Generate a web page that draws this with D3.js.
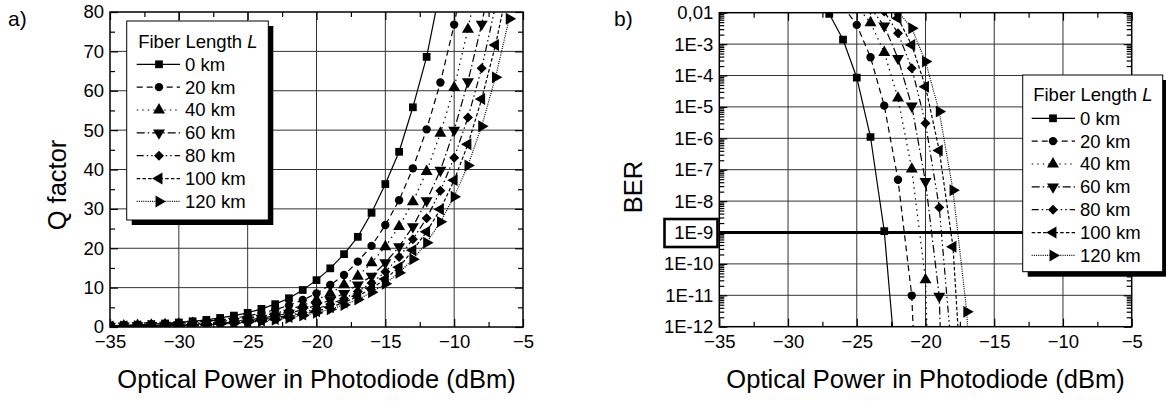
<!DOCTYPE html>
<html>
<head>
<meta charset="utf-8">
<script src="https://cdn.jsdelivr.net/npm/d3@7"></script>
<style>
  body { margin: 0; background: #fff; }
  text { font-family: Arial, "Liberation Sans", sans-serif; fill: #000; }
</style>
</head>
<body>
<svg width="1166" height="401"></svg>
<script>
// ---- data ----
var seriesNames = ["0 km", "20 km", "40 km", "60 km", "80 km", "100 km", "120 km"];

// measured optical power steps (dBm)
var power = [-35, -34, -33, -32, -31, -30, -29, -28, -27, -26, -25, -24, -23, -22, -21, -20,
             -19, -18, -17, -16, -15, -14, -13, -12, -11, -10, -9, -8, -7, -6];

// Q factor, every series starts at -35 dBm
var q0km   = [0.36, 0.45, 0.57, 0.72, 0.9, 1.15, 1.45, 1.8, 2.3, 2.9, 3.6, 4.6, 5.8, 7.3, 9.4, 11.9, 14.9, 18.5, 22.9, 29.0, 36.3, 44.5, 55.8, 68.6, 86];
var q20km  = [0.3, 0.38, 0.47, 0.59, 0.74, 0.92, 1.15, 1.45, 1.8, 2.25, 2.8, 3.5, 4.4, 5.5, 6.85, 8.55, 10.7, 13.2, 16.6, 20.6, 25.9, 32.2, 40.3, 50.2, 62.1, 76.8, 95];
var q40km  = [0.24, 0.3, 0.38, 0.47, 0.59, 0.74, 0.92, 1.15, 1.45, 1.8, 2.25, 2.8, 3.5, 4.4, 5.5, 6.85, 8.55, 10.7, 12.9, 16.3, 20.4, 25.5, 31.8, 39.5, 49.2, 60.8, 75.6, 93];
var q60km  = [0.19, 0.24, 0.3, 0.38, 0.47, 0.59, 0.74, 0.92, 1.15, 1.45, 1.8, 2.25, 2.8, 3.5, 4.4, 5.5, 6.85, 8.55, 10.7, 12.9, 16.3, 20.4, 25.5, 32.1, 39.8, 50.0, 62.3, 76.9, 95];
var q80km  = [0.16, 0.2, 0.25, 0.31, 0.39, 0.49, 0.61, 0.77, 0.96, 1.2, 1.5, 1.9, 2.35, 2.95, 3.7, 4.6, 5.8, 7.2, 9.0, 11.2, 14.0, 17.8, 22.3, 27.6, 34.6, 43.0, 53.2, 65.7, 81.5];
var q100km = [0.14, 0.18, 0.22, 0.27, 0.34, 0.43, 0.54, 0.67, 0.84, 1.05, 1.3, 1.65, 2.05, 2.55, 3.2, 4.0, 5.0, 6.2, 7.8, 9.8, 12.2, 15.2, 19.5, 24.2, 29.9, 37.3, 46.4, 57.9, 71.6, 88];
var q120km = [0.13, 0.16, 0.2, 0.25, 0.31, 0.39, 0.48, 0.6, 0.76, 0.95, 1.18, 1.48, 1.85, 2.3, 2.9, 3.6, 4.5, 5.6, 7.0, 8.8, 11.0, 13.8, 17.2, 21.4, 26.7, 33.1, 41, 51.0, 63.4, 78.3];

// BER, first power of each series (dBm)
var berFirst = [-28, -26, -25, -24, -23, -23, -22];
var ber0km   = [3.2e-2, 9.1e-3, 1.4e-3, 8.5e-5, 1.1e-6, 1.1e-9, 1e-14];
var ber20km  = [1.6e-2, 4.1e-3, 3.8e-4, 1.1e-5, 4.8e-8, 9.8e-12, 1e-21];
var ber40km  = [1.6e-2, 4.8e-3, 5.4e-4, 1.9e-5, 1.05e-7, 3.1e-11, 1e-25];
var ber60km  = [1.4e-2, 3.8e-3, 3.5e-4, 1.07e-5, 4.2e-8, 9.3e-12, 1e-25];
var ber80km  = [1.1e-2, 2.2e-3, 1.7e-4, 3.0e-6, 6.3e-9, 5e-14];
var ber100km = [2.5e-2, 6.6e-3, 9.3e-4, 4.4e-5, 4.1e-7, 3.5e-10, 3e-17];
var ber120km = [1.1e-2, 3.2e-3, 2.8e-4, 7.1e-6, 2.2e-8, 3.0e-12, 1e-20];

var xTicks = [-35, -30, -25, -20, -15, -10, -5];
var qTicks = [0, 10, 20, 30, 40, 50, 60, 70, 80];
var berTicks = [1e-2, 1e-3, 1e-4, 1e-5, 1e-6, 1e-7, 1e-8, 1e-9, 1e-10, 1e-11, 1e-12];
var berLabels = ["0,01", "1E-3", "1E-4", "1E-5", "1E-6", "1E-7", "1E-8", "1E-9", "1E-10", "1E-11", "1E-12"];

var qSeries = [q0km, q20km, q40km, q60km, q80km, q100km, q120km];
var berSeries = [ber0km, ber20km, ber40km, ber60km, ber80km, ber100km, ber120km];

// ---- styles ----
var dashes = [null, "6,4", "1.5,4", "8,3,1.5,3", "7,3,1.5,3,1.5,3", "3.5,2.2", "1,1.2"];
var symbols = [
  { type: d3.symbolSquare, size: 60, rot: 0 },
  { type: d3.symbolCircle, size: 55, rot: 0 },
  { type: d3.symbolTriangle, size: 62, rot: 0 },
  { type: d3.symbolTriangle, size: 62, rot: 180 },
  { type: d3.symbolSquare, size: 50, rot: 45 },
  { type: d3.symbolTriangle, size: 62, rot: -90 },
  { type: d3.symbolTriangle, size: 62, rot: 90 }
];

var svg = d3.select("svg");
var fontTick = "18.5px", fontTitle = "25.5px";

function drawMarker(sel, k, x, y) {
  var s = symbols[k];
  sel.append("path")
    .attr("d", d3.symbol().type(s.type).size(s.size)())
    .attr("transform", "translate(" + x + "," + y + ") rotate(" + s.rot + ")")
    .attr("fill", "#000");
}

function styleAxis(a) {
  a.select(".domain").remove();
  a.selectAll("text").style("font-size", fontTick);
  a.selectAll("line").attr("stroke", "#000").attr("stroke-width", 1.2);
}

function frameAxes(g, x, y, xMinor, yMinor, yMajor, yFormat) {
  var x0 = x.range()[0], x1 = x.range()[1], y0 = y.range()[1], y1 = y.range()[0];
  // grid
  g.append("g").selectAll("line").data(xTicks.slice(1, -1)).enter().append("line")
    .attr("x1", d => x(d)).attr("x2", d => x(d)).attr("y1", y0).attr("y2", y1)
    .attr("stroke", "#333").attr("stroke-width", 1);
  g.append("g").selectAll("line").data(yMajor.slice(1, -1)).enter().append("line")
    .attr("x1", x0).attr("x2", x1).attr("y1", d => y(d)).attr("y2", d => y(d))
    .attr("stroke", "#333").attr("stroke-width", 1);

  // unlabelled minor / mirror ticks, all pointing inward
  var ax = g.append("g");
  ax.append("g").attr("transform", "translate(0," + y1 + ")")
    .call(d3.axisBottom(x).tickValues(xMinor).tickSize(-5).tickSizeOuter(0).tickFormat(""));
  ax.append("g").attr("transform", "translate(0," + y0 + ")")
    .call(d3.axisTop(x).tickValues(xMinor).tickSize(-5).tickSizeOuter(0).tickFormat(""));
  ax.append("g").attr("transform", "translate(0," + y0 + ")")
    .call(d3.axisTop(x).tickValues(xTicks).tickSize(-8).tickSizeOuter(0).tickFormat(""));
  ax.append("g").attr("transform", "translate(" + x0 + ",0)")
    .call(d3.axisLeft(y).tickValues(yMinor).tickSize(-5).tickSizeOuter(0).tickFormat(""));
  ax.append("g").attr("transform", "translate(" + x1 + ",0)")
    .call(d3.axisRight(y).tickValues(yMinor).tickSize(-5).tickSizeOuter(0).tickFormat(""));
  ax.append("g").attr("transform", "translate(" + x1 + ",0)")
    .call(d3.axisRight(y).tickValues(yMajor).tickSize(-8).tickSizeOuter(0).tickFormat(""));
  ax.selectAll(".domain").remove();
  ax.selectAll(".tick line").attr("stroke", "#000").attr("stroke-width", 1.2);

  // labelled axes
  var bx = g.append("g").attr("transform", "translate(0," + y1 + ")")
    .call(d3.axisBottom(x).tickValues(xTicks).tickSize(-8).tickSizeOuter(0).tickPadding(8));
  styleAxis(bx);
  var lx = g.append("g").attr("transform", "translate(" + x0 + ",0)")
    .call(d3.axisLeft(y).tickValues(yMajor).tickSize(-8).tickSizeOuter(0).tickPadding(6).tickFormat(yFormat));
  styleAxis(lx);
}

// ---- panel a ----
var xa = d3.scaleLinear().domain([-35, -5]).range([110, 523]);
var ya = d3.scaleLinear().domain([0, 80]).range([327, 12]);
var ga = svg.append("g");

var xMinor = [-32.5, -27.5, -22.5, -17.5, -12.5, -7.5];
frameAxes(ga, xa, ya, xMinor, [5, 15, 25, 35, 45, 55, 65, 75], qTicks, d => d);

svg.append("clipPath").attr("id", "clipA").append("rect")
  .attr("x", 110).attr("y", 12).attr("width", 413).attr("height", 315);

var plotA = ga.append("g").attr("clip-path", "url(#clipA)");
qSeries.forEach(function(vals, k) {
  var pts = vals.map((v, i) => [power[i], v]);
  plotA.append("path").datum(pts)
    .attr("fill", "none").attr("stroke", "#000").attr("stroke-width", 1.2)
    .attr("stroke-dasharray", dashes[k])
    .attr("d", d3.line().x(d => xa(d[0])).y(d => ya(d[1])));
  pts.forEach(function(d) { drawMarker(plotA, k, xa(d[0]), ya(d[1])); });
});

ga.append("rect").attr("x", 110).attr("y", 12).attr("width", 413).attr("height", 315)
  .attr("fill", "none").attr("stroke", "#000").attr("stroke-width", 1.5);

// ---- panel b ----
var xb = d3.scaleLinear().domain([-35, -5]).range([719.3, 1131.7]);
var yb = d3.scaleLog().domain([1e-12, 1e-2]).range([326.7, 12.7]);
var gb = svg.append("g");

var berMinor = [];
berTicks.slice(1).forEach(function(t) { for (var m = 2; m < 10; m++) berMinor.push(t * m); });
frameAxes(gb, xb, yb, xMinor, berMinor, berTicks, (d, i) => berLabels[i]);

svg.append("clipPath").attr("id", "clipB").append("rect")
  .attr("x", 719.3).attr("y", 12.7).attr("width", 412.4).attr("height", 314);

// BER = 1E-9 limit
gb.append("line").attr("x1", xb(-35)).attr("x2", xb(-5)).attr("y1", yb(1e-9)).attr("y2", yb(1e-9))
  .attr("stroke", "#000").attr("stroke-width", 3);
gb.append("rect").attr("x", 664.5).attr("y", yb(1e-9) - 13.5).attr("width", 53).attr("height", 28)
  .attr("fill", "none").attr("stroke", "#000").attr("stroke-width", 2.6);

var plotB = gb.append("g").attr("clip-path", "url(#clipB)");
berSeries.forEach(function(vals, k) {
  var pts = vals.map((v, i) => [berFirst[k] + i, v]);
  plotB.append("path").datum(pts)
    .attr("fill", "none").attr("stroke", "#000").attr("stroke-width", 1.2)
    .attr("stroke-dasharray", dashes[k])
    .attr("d", d3.line().x(d => xb(d[0])).y(d => yb(d[1])));
  pts.forEach(function(d) { drawMarker(plotB, k, xb(d[0]), yb(d[1])); });
});

gb.append("rect").attr("x", 719.3).attr("y", 12.7).attr("width", 412.4).attr("height", 314)
  .attr("fill", "none").attr("stroke", "#000").attr("stroke-width", 1.5);

// ---- legends ----
function legend(x, y, w, h, titleY, rowY, sx1, sx2, mx, tx) {
  var g = svg.append("g");
  g.append("rect").attr("x", x + 5).attr("y", y + 5).attr("width", w).attr("height", h).attr("fill", "#000");
  g.append("rect").attr("x", x).attr("y", y).attr("width", w).attr("height", h)
    .attr("fill", "#fff").attr("stroke", "#000").attr("stroke-width", 1);
  var t = g.append("text").attr("x", sx1 + 1.5).attr("y", titleY).attr("dy", "0.35em").style("font-size", fontTick);
  t.append("tspan").text("Fiber Length ");
  t.append("tspan").attr("font-style", "italic").text("L");
  seriesNames.forEach(function(name, k) {
    var yy = rowY + k * 22.85;
    g.append("line").attr("x1", sx1).attr("x2", sx2).attr("y1", yy).attr("y2", yy)
      .attr("stroke", "#000").attr("stroke-width", 1.2).attr("stroke-dasharray", dashes[k]);
    drawMarker(g, k, mx, yy);
    g.append("text").attr("x", tx).attr("y", yy).attr("dy", "0.35em").style("font-size", fontTick).text(name);
  });
}
legend(126.7, 21, 141.6, 199, 41.7, 64.3, 136.7, 180, 159, 185);
legend(1022.7, 75, 140, 196.7, 95, 118.3, 1031.7, 1075, 1053, 1080);

// ---- titles ----
svg.append("text").attr("x", 316.5).attr("y", 388).attr("text-anchor", "middle")
  .style("font-size", fontTitle).text("Optical Power in Photodiode (dBm)");
svg.append("text").attr("x", 925.5).attr("y", 388).attr("text-anchor", "middle")
  .style("font-size", fontTitle).text("Optical Power in Photodiode (dBm)");
svg.append("text").attr("transform", "translate(66,185) rotate(-90)").attr("text-anchor", "middle")
  .style("font-size", fontTitle).text("Q factor");
svg.append("text").attr("transform", "translate(642,187) rotate(-90)").attr("text-anchor", "middle")
  .style("font-size", fontTitle).text("BER");
svg.append("text").attr("x", 8).attr("y", 26).style("font-size", "21px").text("a)");
svg.append("text").attr("x", 614).attr("y", 26).style("font-size", "21px").text("b)");
</script>
</body>
</html>
